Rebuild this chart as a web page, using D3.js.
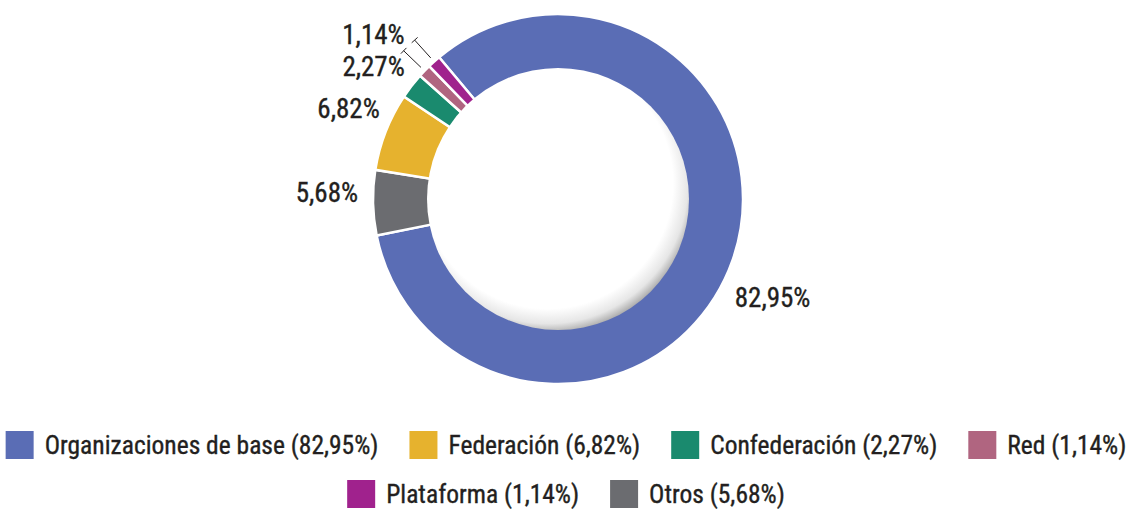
<!DOCTYPE html>
<html lang="es">
<head>
<meta charset="UTF-8">
<title>Tipo de organización</title>
<script src="https://d3js.org/d3.v7.min.js"></script>
<style>
  body { margin: 0; background: #fff; }
  text { font-family: "Liberation Sans Narrow", "Arial Narrow", "Roboto Condensed", sans-serif; fill: #231f20; stroke: #231f20; stroke-width: 0.35px; }
</style>
</head>
<body>
<div id="chart"></div>
<script>

// data
const categories = ["Organizaciones de base", "Otros", "Federación", "Confederación", "Red", "Plataforma"];
const values = [82.95, 5.68, 6.82, 2.27, 1.14, 1.14];
const colors = ["#5a6db5", "#6b6c70", "#e6b22e", "#1a8a6e", "#b06580", "#a0228d"];
// legend order as shown under the chart
const legendOrder = ["Organizaciones de base", "Federación", "Confederación", "Red", "Plataforma", "Otros"];
const legendRows = [4, 2];

const fmt = v => v.toFixed(2).replace(".", ",") + "%";

const width = 1130, height = 510;
const cx = 558, cy = 199;
const outerR = 185, innerR = 131;

const svg = d3.select("#chart").append("svg")
  .attr("width", width)
  .attr("height", height);

const color = d3.scaleOrdinal().domain(categories).range(colors);

// start angle chosen so the big slice begins at upper left
const startA = -40 * Math.PI / 180;
const pie = d3.pie()
  .sort(null)
  .value((d, i) => values[i])
  .startAngle(startA)
  .endAngle(startA + 2 * Math.PI);

const arcs = pie(categories);

const arc = d3.arc().innerRadius(innerR - 5).outerRadius(outerR);

const g = svg.append("g").attr("transform", `translate(${cx},${cy})`);

g.selectAll("path.slice")
  .data(arcs)
  .join("path")
  .attr("class", "slice")
  .attr("d", arc)
  .attr("fill", d => color(d.data))
  .attr("stroke", "#fff")
  .attr("stroke-width", 2.5);

// inner disc with soft shading on the lower right
const defs = svg.append("defs");
const grad = defs.append("radialGradient")
  .attr("id", "innerShade")
  .attr("cx", "0.46").attr("cy", "0.44").attr("r", "0.57");
grad.append("stop").attr("offset", "0.84").attr("stop-color", "#ffffff");
grad.append("stop").attr("offset", "0.94").attr("stop-color", "#e6e6e6");
grad.append("stop").attr("offset", "1").attr("stop-color", "#b0b0b0");

g.append("circle")
  .attr("r", innerR)
  .attr("fill", "url(#innerShade)");

// value labels
const labelR = 200;
const nudge = {
  "Organizaciones de base": [-12, 32],
  "Otros": [0, -11],
  "Federación": [8, -18],
  "Confederación": [5, -10]
};
const leaderInner = 190, leaderOuter = 214;
const leaders = ["Plataforma", "Red"];

function polar(a, r) {
  return [r * Math.sin(a), -r * Math.cos(a)];
}

arcs.forEach(d => {
  const mid = (d.startAngle + d.endAngle) / 2;
  const name = d.data;
  if (leaders.includes(name)) {
    const [x1, y1] = polar(mid, leaderInner);
    const [x2, y2] = polar(mid, leaderOuter);
    g.append("line")
      .attr("x1", x1).attr("y1", y1).attr("x2", x2).attr("y2", y2)
      .attr("stroke", "#231f20").attr("stroke-width", 1);
    // small cap at the outer end
    const px = Math.cos(mid) * 4, py = Math.sin(mid) * 4;
    g.append("line")
      .attr("x1", x2 - px).attr("y1", y2 - py).attr("x2", x2 + px).attr("y2", y2 + py)
      .attr("stroke", "#231f20").attr("stroke-width", 1);
    if (name === "Plataforma") {
      g.append("text")
        .attr("x", x2 - 10).attr("y", y2 - 6)
        .attr("dy", "0.35em")
        .attr("text-anchor", "end")
        .style("font-size", "27px")
        .text(fmt(values[categories.indexOf(name)]));
    }
    return;
  }
  const [x, y] = polar(mid, labelR);
  const [nx, ny] = nudge[name] || [0, 0];
  g.append("text")
    .attr("x", x + nx).attr("y", y + ny)
    .attr("dy", "0.35em")
    .attr("text-anchor", Math.sin(mid) < 0 ? "end" : "start")
    .style("font-size", "27px")
    .text(fmt(values[categories.indexOf(name)]));
});

// legend
const legend = svg.append("g");
const sw = 28, gapText = 11, gapItem = 31;
const rowY = [445, 494];
let idx = 0;
legendRows.forEach((n, r) => {
  const row = legend.append("g");
  let x = 0;
  for (let k = 0; k < n; k++, idx++) {
    const name = legendOrder[idx];
    const item = row.append("g").attr("transform", `translate(${x},0)`);
    item.append("rect")
      .attr("x", 0).attr("y", -sw / 2)
      .attr("width", sw).attr("height", sw)
      .attr("fill", color(name));
    const t = item.append("text")
      .attr("x", sw + gapText).attr("y", 0)
      .attr("dy", "0.35em")
      .style("font-size", "25.5px")
      .text(`${name} (${fmt(values[categories.indexOf(name)])})`);
    x += sw + gapText + t.node().getComputedTextLength() + gapItem;
  }
  const total = x - gapItem;
  row.attr("transform", `translate(${566 - total / 2},${rowY[r]})`);
});

</script>
</body>
</html>
